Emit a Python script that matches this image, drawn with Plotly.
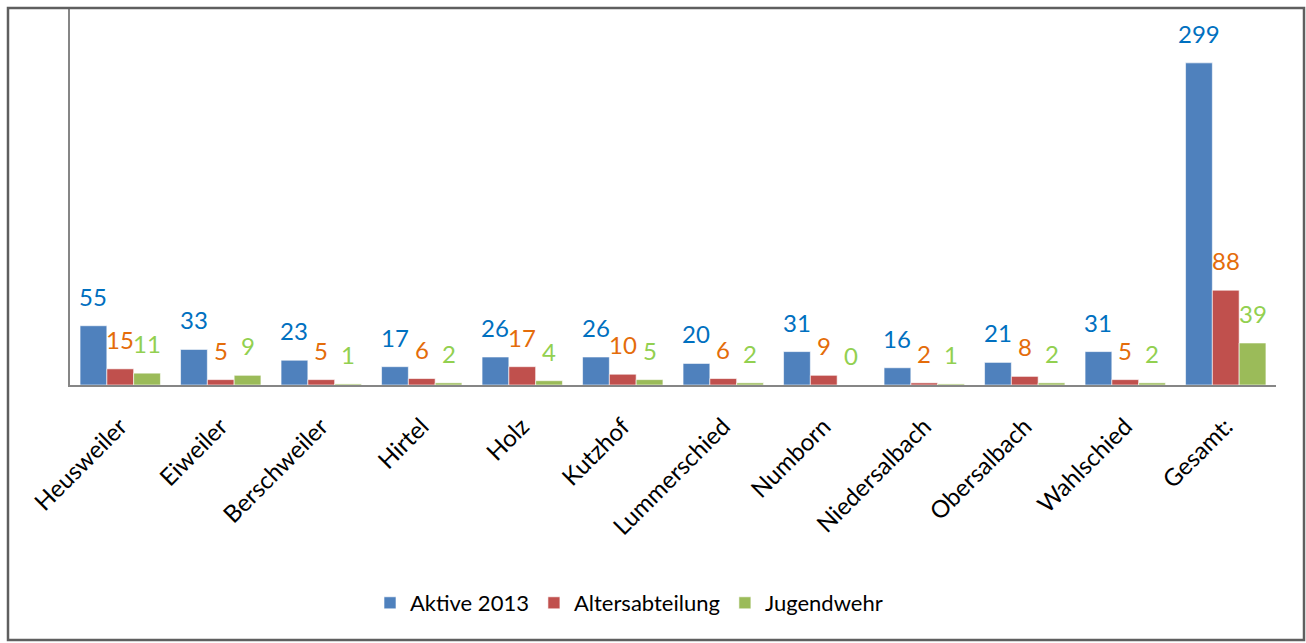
import plotly.graph_objects as go

categories = ["Heusweiler", "Eiweiler", "Berschweiler", "Hirtel", "Holz", "Kutzhof",
              "Lummerschied", "Numborn", "Niedersalbach", "Obersalbach", "Wahlschied", "Gesamt:"]
aktive = [55, 33, 23, 17, 26, 26, 20, 31, 16, 21, 31, 299]
alters = [15, 5, 5, 6, 17, 10, 6, 9, 2, 8, 5, 88]
jugend = [11, 9, 1, 2, 4, 5, 2, 0, 1, 2, 2, 39]

series = [
    ("Aktive 2013", aktive, "#4F81BD", "#0070C0"),
    ("Altersabteilung", alters, "#C0504D", "#E46C0A"),
    ("Jugendwehr", jugend, "#9BBB59", "#92D050"),
]

FONT = "Lato, Carlito, 'Open Sans', sans-serif"
W, H = 1306, 643
ML, MR, MT, MB = 70, 30, 9, 258

fig = go.Figure()
annotations = []
group_w = 0.8
bw = group_w / len(series)
for si, (name, vals, col, lcol) in enumerate(series):
    fig.add_trace(go.Bar(
        x=list(range(len(categories))), y=vals, name=name,
        marker=dict(color=col, line=dict(color="rgba(255,255,255,0.6)", width=1)),
    ))
    off = (si - 1) * bw
    for i, v in enumerate(vals):
        annotations.append(dict(
            x=i + off, y=v, xref="x", yref="y", text=str(v), showarrow=False,
            yanchor="bottom", xanchor="center", yshift=13,
            font=dict(family=FONT, size=24, color=lcol),
        ))

pw = W - ML - MR
ph = H - MT - MB
fig.update_layout(
    width=W, height=H,
    margin=dict(l=ML, r=MR, t=MT, b=MB),
    paper_bgcolor="white", plot_bgcolor="white",
    barmode="group", bargap=0.2, bargroupgap=0,
    font=dict(family=FONT, size=21, color="black"),
    showlegend=True,
    legend=dict(orientation="h", x=370 / W, xanchor="left", xref="container",
                y=(H - 603) / H, yref="container", yanchor="middle",
                font=dict(family=FONT, size=22, color="black"),
                itemwidth=30, traceorder="normal"),
    annotations=annotations,
    shapes=[dict(type="rect", xref="paper", yref="paper",
                 x0=(8 - ML) / pw, x1=(1304 - ML) / pw,
                 y0=-(640 - MT - ph) / ph, y1=1 + (MT - 8) / ph,
                 line=dict(color="#5F5F5F", width=2.5), layer="above")],
)
fig.update_xaxes(
    tickmode="array", tickvals=list(range(len(categories))), ticktext=categories,
    tickangle=-45, showline=True, linecolor="#868686", linewidth=2,
    ticks="", showgrid=False, zeroline=False, range=[-0.5, len(categories) - 0.5],
    ticklabelstandoff=16,
    tickfont=dict(family=FONT, size=24, color="black"),
)
fig.update_yaxes(
    range=[0, 349], showline=True, linecolor="#868686", linewidth=2,
    showticklabels=False, ticks="", showgrid=False, zeroline=False,
)

fig.write_html("out.html", config={"displayModeBar": False},
               post_script="document.body.style.margin='0';document.body.style.overflow='hidden';")
